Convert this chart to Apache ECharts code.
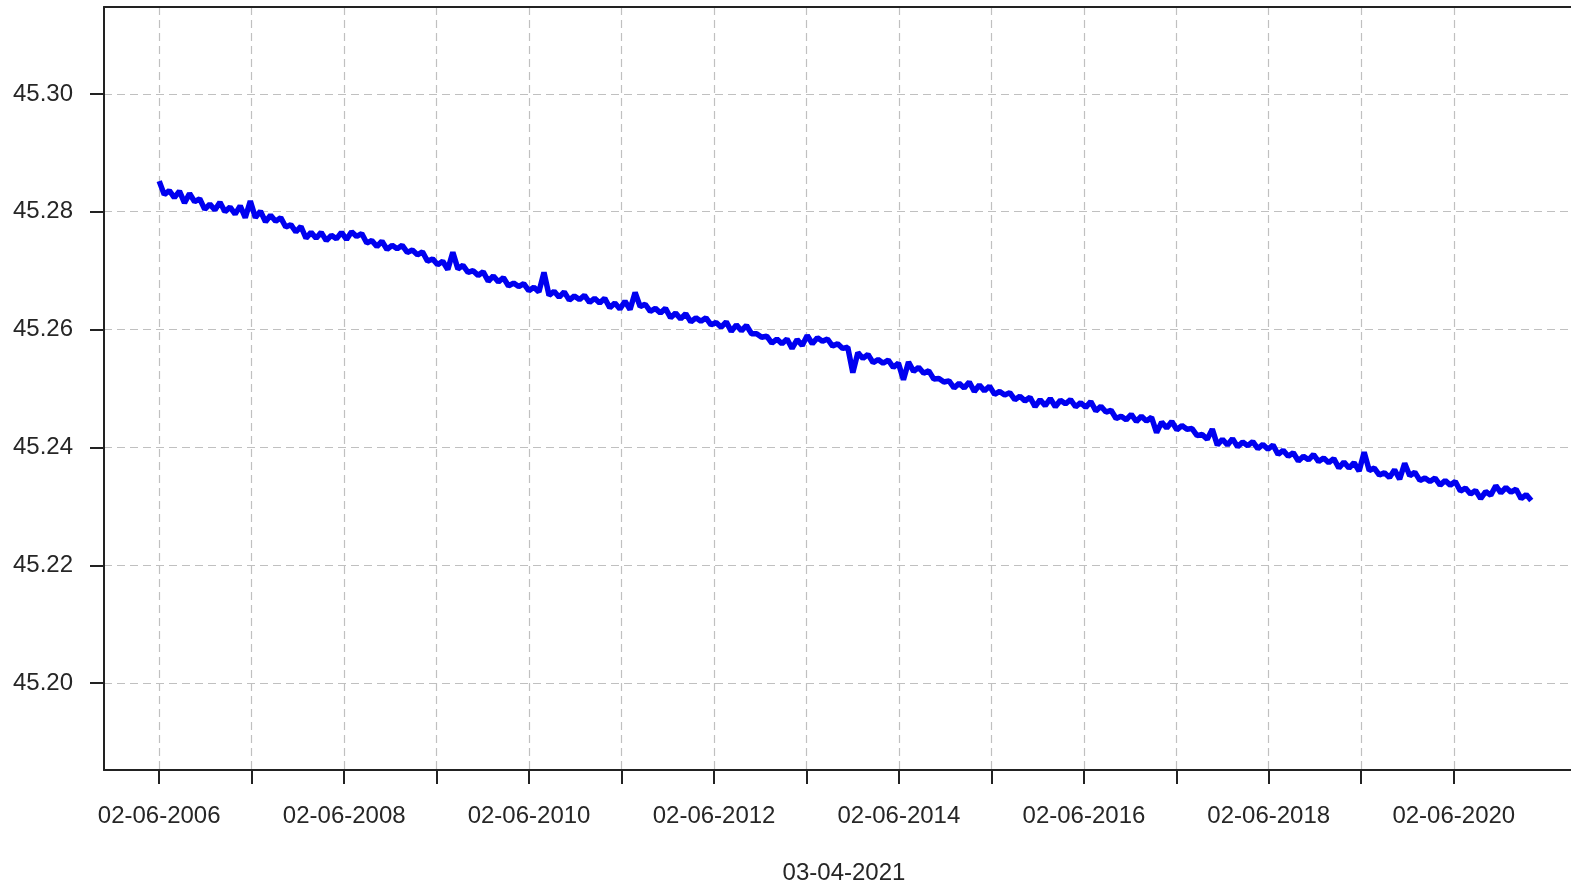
<!DOCTYPE html>
<html>
<head>
<meta charset="utf-8">
<script src="https://cdn.jsdelivr.net/npm/echarts@6/dist/echarts.min.js"></script>
<style>
  html, body { margin: 0; padding: 0; background: #fff; }
  #chart { width: 1571px; height: 886px; }
</style>
</head>
<body>
<div id="chart"></div>
<script>
// readings taken every 20 days from 02-06-2006 (upper / lower edge of the noisy band)
const startDate = Date.UTC(2006, 5, 2)
const stepDays = 20
const levels = [
  45.2852, 45.2829, 45.2836, 45.2824, 45.2835, 45.2815, 45.2831, 45.2817, 45.2822, 45.2804,
  45.2813, 45.2803, 45.2816, 45.2800, 45.2808, 45.2796, 45.2810, 45.2790, 45.2818, 45.2790,
  45.2801, 45.2783, 45.2794, 45.2784, 45.2790, 45.2774, 45.2778, 45.2766, 45.2775, 45.2755,
  45.2765, 45.2755, 45.2765, 45.2751, 45.2760, 45.2754, 45.2765, 45.2753, 45.2766, 45.2758,
  45.2763, 45.2747, 45.2751, 45.2741, 45.2750, 45.2736, 45.2743, 45.2737, 45.2743, 45.2731,
  45.2735, 45.2727, 45.2732, 45.2716, 45.2720, 45.2710, 45.2716, 45.2702, 45.2731, 45.2703,
  45.2709, 45.2697, 45.2700, 45.2692, 45.2698, 45.2682, 45.2691, 45.2681, 45.2688, 45.2674,
  45.2679, 45.2673, 45.2678, 45.2666, 45.2672, 45.2664, 45.2697, 45.2658, 45.2665, 45.2655,
  45.2664, 45.2650, 45.2657, 45.2651, 45.2658, 45.2646, 45.2653, 45.2645, 45.2653, 45.2637,
  45.2645, 45.2635, 45.2648, 45.2634, 45.2663, 45.2639, 45.2643, 45.2631, 45.2636, 45.2628,
  45.2636, 45.2620, 45.2628, 45.2618, 45.2627, 45.2613, 45.2620, 45.2614, 45.2620, 45.2608,
  45.2612, 45.2604, 45.2613, 45.2597, 45.2608, 45.2598, 45.2607, 45.2593, 45.2593, 45.2587,
  45.2589, 45.2577, 45.2584, 45.2576, 45.2584, 45.2568, 45.2583, 45.2573, 45.2590, 45.2576,
  45.2586, 45.2580, 45.2584, 45.2572, 45.2576, 45.2568, 45.2570, 45.2527, 45.2561, 45.2551,
  45.2558, 45.2544, 45.2549, 45.2543, 45.2548, 45.2536, 45.2543, 45.2515, 45.2545, 45.2529,
  45.2536, 45.2526, 45.2530, 45.2516, 45.2517, 45.2511, 45.2513, 45.2501, 45.2509, 45.2501,
  45.2511, 45.2495, 45.2506, 45.2496, 45.2504, 45.2490, 45.2495, 45.2489, 45.2493, 45.2481,
  45.2487, 45.2479, 45.2485, 45.2469, 45.2481, 45.2471, 45.2483, 45.2469, 45.2480, 45.2474,
  45.2481, 45.2469, 45.2476, 45.2468, 45.2478, 45.2462, 45.2470, 45.2460, 45.2463, 45.2449,
  45.2453, 45.2447, 45.2456, 45.2444, 45.2453, 45.2445, 45.2451, 45.2425, 45.2443, 45.2433,
  45.2444, 45.2430, 45.2437, 45.2431, 45.2432, 45.2420, 45.2422, 45.2414, 45.2431, 45.2404,
  45.2414, 45.2404, 45.2415, 45.2401, 45.2409, 45.2403, 45.2410, 45.2398, 45.2405, 45.2397,
  45.2404, 45.2388, 45.2395, 45.2385, 45.2391, 45.2377, 45.2385, 45.2379, 45.2388, 45.2376,
  45.2382, 45.2374, 45.2381, 45.2365, 45.2375, 45.2365, 45.2374, 45.2360, 45.2392, 45.2361,
  45.2365, 45.2353, 45.2357, 45.2349, 45.2362, 45.2346, 45.2373, 45.2352, 45.2358, 45.2344,
  45.2348, 45.2342, 45.2348, 45.2336, 45.2344, 45.2336, 45.2342, 45.2326, 45.2331, 45.2321,
  45.2327, 45.2313, 45.2325, 45.2319, 45.2335, 45.2323, 45.2332, 45.2324, 45.2329, 45.2313,
  45.2320, 45.2310,
]

const tickYears = [2006, 2007, 2008, 2009, 2010, 2011, 2012, 2013, 2014, 2015, 2016, 2017, 2018, 2019, 2020]
const labelYears = [2006, 2008, 2010, 2012, 2014, 2016, 2018, 2020]
const yTicks = [45.20, 45.22, 45.24, 45.26, 45.28, 45.30]
const xTitle = '03-04-2021'

const DAY = 86400000
const seriesData = levels.map((v, i) => [startDate + i * stepDays * DAY, v])
const june2 = y => Date.UTC(y, 5, 2)

const pad = n => (n < 10 ? '0' : '') + n
function fmtDate(ms) {
  const d = new Date(ms)
  return pad(d.getUTCDate()) + '-' + pad(d.getUTCMonth() + 1) + '-' + d.getUTCFullYear()
}

const textColor = '#262626'
const axisColor = '#222'
const gridColor = '#c0c0c0'
const font = 'Liberation Sans, Arial, sans-serif'
const xMin = Date.UTC(2005, 9, 27)
const xMax = Date.UTC(2021, 8, 8)

const chart = echarts.init(document.getElementById('chart'))

chart.setOption({
  animation: false,
  backgroundColor: '#fff',
  grid: {
    left: 104,
    right: 0,
    top: 7,
    bottom: 116,
    outerBoundsMode: 'none',
  },
  xAxis: [
    {
      type: 'value',
      min: xMin,
      max: xMax,
      name: xTitle,
      nameLocation: 'middle',
      nameGap: 91,
      nameTextStyle: { color: textColor, fontSize: 24, fontFamily: font, padding: [0, 0, 0, 13] },
      axisLine: { show: true, onZero: false, lineStyle: { color: axisColor, width: 2 } },
      axisTick: {
        show: true,
        inside: false,
        length: 14,
        customValues: tickYears.map(june2),
        lineStyle: { color: axisColor, width: 2 },
      },
      axisLabel: {
        customValues: labelYears.map(june2),
        formatter: v => fmtDate(v),
        color: textColor,
        fontSize: 24,
        fontFamily: font,
        margin: 34,
      },
      splitLine: {
        show: true,
        lineStyle: { color: gridColor, width: 1.2, type: [8, 5] },
      },
    },
    {
      // top edge of the box
      type: 'value',
      position: 'top',
      min: xMin,
      max: xMax,
      axisLine: { show: true, onZero: false, lineStyle: { color: axisColor, width: 2 } },
      axisTick: { show: false },
      axisLabel: { show: false },
      splitLine: { show: false },
    },
  ],
  yAxis: {
    type: 'value',
    min: 45.18525,
    max: 45.31475,
    axisLine: { show: true, lineStyle: { color: axisColor, width: 2 } },
    axisTick: {
      show: true,
      length: 14,
      customValues: yTicks,
      lineStyle: { color: axisColor, width: 2 },
    },
    axisLabel: {
      customValues: yTicks,
      formatter: v => v.toFixed(2),
      color: textColor,
      fontSize: 24,
      fontFamily: font,
      margin: 31,
    },
    splitLine: {
      show: true,
      lineStyle: { color: gridColor, width: 1.2, type: [8, 5] },
    },
  },
  series: [
    {
      type: 'line',
      xAxisIndex: 0,
      data: seriesData,
      symbol: 'none',
      lineStyle: { color: '#0000f0', width: 5.5, join: 'bevel' },
    },
  ],
})
</script>
</body>
</html>
